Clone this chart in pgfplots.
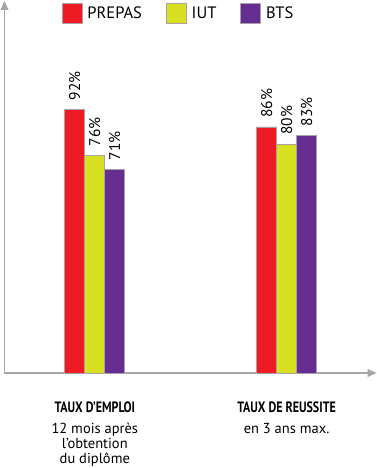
\documentclass[border=0pt]{standalone}
\usepackage{fontspec}
\setmainfont{PT Sans}
\newfontfamily\headfont{PT Sans}[FakeStretch=0.8]
\usepackage{pgfplots}
\pgfplotsset{compat=1.18}
\usetikzlibrary{arrows.meta}
\definecolor{cred}{HTML}{ED1C24}
\definecolor{cyel}{HTML}{D9E021}
\definecolor{cpur}{HTML}{662D91}
\definecolor{cax}{HTML}{A6A6A6}
\definecolor{cbd}{HTML}{A8A0A8}
\begin{document}
\begin{tikzpicture}
\useasboundingbox (-4.5pt,-95pt) rectangle (372.5pt,373pt);
\begin{axis}[
  scale only axis,
  width=372pt, height=372pt,
  xmin=-0.471, xmax=1.469,
  ymin=0, ymax=130,
  ybar=0pt, bar width=20pt,
  axis x line=bottom, axis y line=left,
  axis line style={draw=cax, line width=1.2pt, -{Triangle[length=9pt,width=8pt]}},
  ytick=\empty,
  xtick={0,1},
  major tick length=0pt,
  xticklabels={{{\headfont\bfseries\fontsize{15}{16}\selectfont TAUX D’EMPLOI}\\[6pt]12 mois après\\l’obtention\\du diplôme},
               {{\headfont\bfseries\fontsize{15}{16}\selectfont TAUX DE REUSSITE}\\[6pt]en 3 ans max.}},
  xticklabel style={align=center, anchor=north, yshift=-25pt, font=\fontsize{14.5}{15}\selectfont, text depth=0pt},
  nodes near coords={\pgfmathprintnumber{\pgfplotspointmeta}\%},
  /pgf/number format/assume math mode=true,
  every node near coord/.append style={rotate=90, anchor=west, inner xsep=9pt, font=\fontsize{15.5}{16}\selectfont, black},
  legend style={draw=none, fill=none, at={(rel axis cs:0.145,1.0)}, anchor=north west,
    legend columns=3, font=\fontsize{16.5}{17}\selectfont,
    nodes={inner xsep=5pt},
    /tikz/every even column/.append style={column sep=19pt}},
  legend image code/.code={\draw[#1, line width=0.8pt] (0pt,-10pt) rectangle (20pt,10pt);},
  clip=false,
]
\addplot[fill=cred, draw=cbd, line width=0.8pt] coordinates {(0,92) (1,86)};
\addplot[fill=cyel, draw=cbd, line width=0.8pt] coordinates {(0,76) (1,80)};
\addplot[fill=cpur, draw=cbd, line width=0.8pt] coordinates {(0,71) (1,83)};
\legend{PREPAS, IUT, BTS}
\end{axis}
\end{tikzpicture}
\end{document}
